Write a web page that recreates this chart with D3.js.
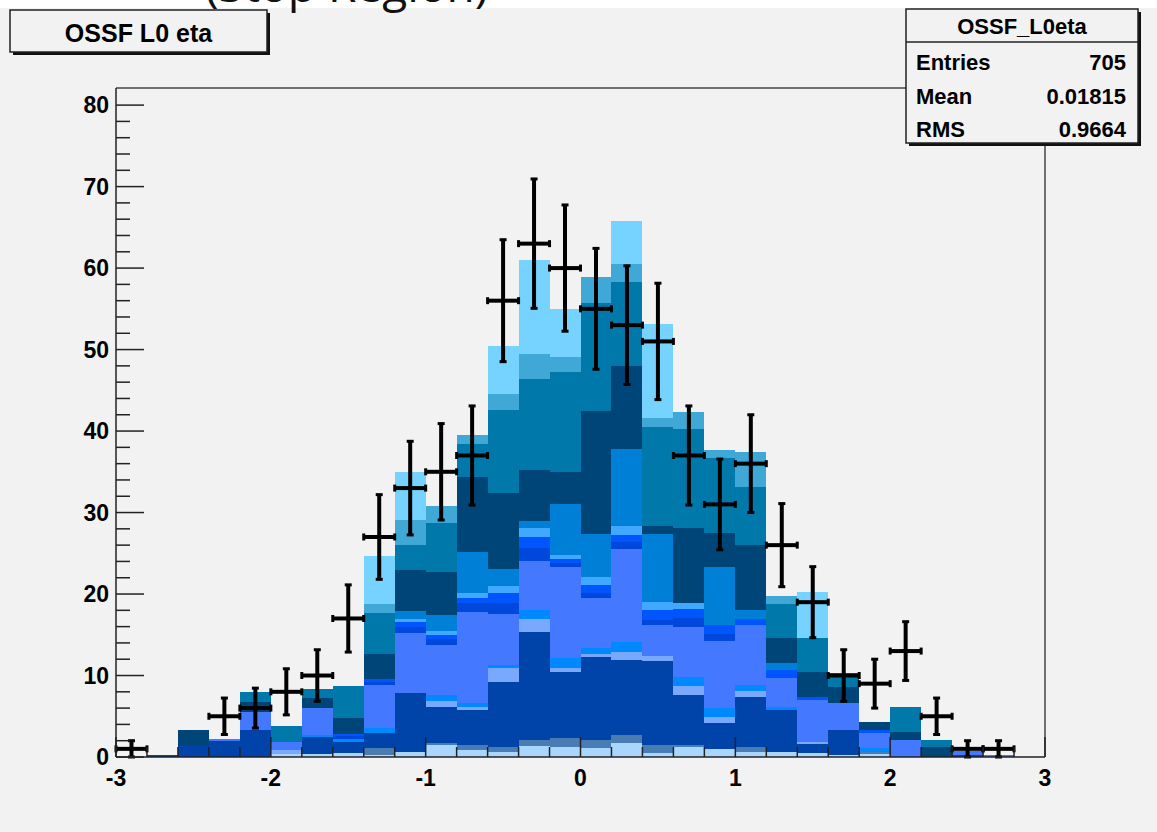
<!DOCTYPE html>
<html>
<head>
<meta charset="utf-8">
<script src="https://cdn.jsdelivr.net/npm/d3@7/dist/d3.min.js"></script>
<style>
body { margin: 0; background: #f2f2f2; }
text { font-family: "Liberation Sans", Arial, Helvetica, sans-serif; font-weight: bold; }
</style>
</head>
<body>
<svg id="chart" width="1157" height="832"></svg>
<script>
// histogram binning: 30 bins from -3 to 3
const binLow = d3.range(30).map(i => -3 + i * 0.2);
const binWidth = 0.2;

// observed data (black crosses)
const dataCounts = [1, 0, 0, 5, 6, 8, 10, 17, 27, 33, 35, 37, 56, 63, 60, 55, 53, 51, 37, 31, 36, 26, 19, 10, 9, 13, 5, 1, 1, 0];

// stacked MC components, bottom -> top
const layer01 = [0, 0, 0, 0, 0, 0.4, 0.4, 0.5, 0.25, 0.6, 1.5, 0.8, 0.6, 1.35, 1.2, 1.1, 1.7, 0.5, 1.2, 1.0, 0.6, 0.6, 0.5, 0.25, 0.4, 0, 0, 0, 0, 0];
const layer02 = [0, 0, 0, 0, 0, 0, 0, 0, 0.85, 0, 0.2, 0.7, 0.6, 0.75, 1.1, 1.0, 1.0, 1.0, 0.3, 0, 0.6, 0, 0, 0, 0.2, 0, 0, 0, 0, 0];
const layer03 = [0, 0.3, 1.35, 2.0, 3.3, 0, 2.1, 1.35, 1.8, 7.3, 4.4, 4.3, 8.0, 13.2, 8.1, 10.2, 9.2, 10.3, 6.1, 3.2, 6.2, 5.2, 1.1, 3.1, 0, 0, 0, 0.3, 0, 0];
const layer04 = [0, 0, 0, 0, 0, 0.4, 0, 0, 0, 0, 0.8, 0.3, 1.7, 1.6, 0.5, 0.4, 1.0, 0.6, 1.1, 0.7, 0.7, 0, 0.2, 0, 0, 0, 0, 0, 0, 0];
const layer05 = [0, 0, 0, 0, 0, 0, 0.2, 0.3, 0.6, 0, 0.7, 0.5, 0.4, 1.1, 1.2, 0.7, 1.2, 0, 1.1, 1.1, 0.7, 0.3, 0, 0, 0.5, 0, 0, 0, 0, 0];
const layer06 = [0, 0, 0, 0.2, 2.2, 1.0, 3.3, 0, 5.3, 7.3, 6.1, 11.2, 6.2, 6.1, 11.2, 6.1, 11.4, 3.8, 6.2, 8.2, 7.4, 3.6, 5.2, 3.3, 1.8, 2.1, 0, 0.4, 0.2, 0];
const layer07 = [0, 0, 0, 0, 0, 0, 0, 0.4, 0.4, 0.8, 0.8, 1.1, 1.4, 1.6, 0.5, 0.6, 0.9, 0.6, 1.1, 0.9, 0, 0, 0, 0, 0, 0, 0, 0, 0, 0];
const layer08 = [0, 0, 0, 0, 0, 0, 0, 0.3, 0.4, 0.6, 0.5, 0.6, 1.2, 1.3, 0.5, 1.0, 0.9, 1.2, 1.1, 1.1, 0.7, 1.0, 0.4, 0, 0.4, 0, 0, 0, 0, 0];
const layer09 = [0, 0, 0, 0, 0, 0, 0, 0, 0, 0.3, 0.5, 0.6, 0.9, 1.1, 0.5, 1.0, 1.1, 1.0, 0.7, 0, 0, 0, 0, 0, 0, 0, 0, 0, 0, 0];
const layer10 = [0, 0, 0, 0, 0, 0, 0, 0, 0, 1.0, 1.9, 5.1, 2.1, 0.9, 6.2, 5.3, 9.4, 8.4, 0, 7.1, 1.1, 0.8, 0, 0, 0, 0, 0, 0, 0, 0];
const layer11 = [0, 0, 1.95, 0, 1.2, 0, 1.2, 1.9, 3.0, 5.0, 5.3, 9.2, 9.3, 6.2, 4.0, 15.1, 10.2, 0.9, 9.2, 4.2, 8.0, 3.1, 3.0, 2.0, 1.0, 1.0, 1.2, 0, 0, 0];
const layer12 = [0, 0, 0, 0, 1.3, 2.0, 1.1, 4.0, 5.1, 3.1, 6.0, 4.0, 10.2, 11.2, 12.2, 13.2, 10.3, 12.2, 12.1, 9.2, 7.1, 4.2, 4.2, 1.7, 0, 3.0, 0.9, 0, 0, 0];
const layer13 = [0, 0, 0, 0, 0, 0, 0, 0, 1.1, 3.1, 2.1, 1.1, 1.9, 3.1, 1.9, 3.2, 2.2, 1.1, 2.1, 1.0, 4.3, 1.0, 0, 0, 0, 0, 0, 0, 0, 0];
const layer14 = [0, 0, 0, 0, 0, 0, 0, 0, 5.9, 5.9, 0, 0, 5.9, 11.5, 5.9, 0, 5.3, 11.5, 0, 0, 0, 0, 5.6, 0, 0, 0, 0, 0, 0, 0];

const layers = [layer01, layer02, layer03, layer04, layer05, layer06, layer07,
                layer08, layer09, layer10, layer11, layer12, layer13, layer14];
const layerColors = ['#a8d6ff', '#4a7cb4', '#0044aa', '#78a9ff', '#0088ff', '#4479ff', '#0047dc',
                     '#0055ff', '#40a9ff', '#007fd6', '#004577', '#0078aa', '#3fa8d6', '#76d3ff'];

const yMajorTicks = [0, 10, 20, 30, 40, 50, 60, 70, 80];
const xMajorTicks = [-3, -2, -1, 0, 1, 2, 3];

const statsTitle = 'OSSF_L0eta';
const statsRows = [['Entries', '705'], ['Mean', '0.01815'], ['RMS', '0.9664']];
const histTitle = 'OSSF L0 eta';
const pageHeading = '(Stop Region)';   // only the bottom of this heading shows

const svg = d3.select('#chart');

// white strip at the very top with the cut-off heading
svg.append('defs').append('clipPath').attr('id', 'topclip')
  .append('rect').attr('x', 0).attr('y', 0).attr('width', 1157).attr('height', 13);
svg.append('rect').attr('x', 0).attr('y', 0).attr('width', 1157).attr('height', 8).attr('fill', '#ffffff');
svg.append('text').attr('clip-path', 'url(#topclip)')
  .attr('x', 205).attr('y', 2)
  .style('font-family', '"Open Sans", "DejaVu Sans", sans-serif').style('font-weight', 'normal')
  .attr('font-size', 46).attr('fill', '#111')
  .text(pageHeading);

const frame = { left: 116, right: 1045, top: 88, bottom: 757 };

const x = d3.scaleLinear().domain([-3, 3]).range([frame.left, frame.right]);
const y = d3.scaleLinear().domain([0, 82.1]).range([frame.bottom, frame.top]);

// build table for d3.stack
const keys = layers.map((l, i) => 'L' + i);
const table = binLow.map((lo, b) => {
    const row = { lo: lo };
    layers.forEach((l, i) => { row['L' + i] = l[b]; });
    return row;
});
const series = d3.stack().keys(keys)(table);

const stackG = svg.append('g').attr('shape-rendering', 'crispEdges');
series.forEach((s, i) => {
    stackG.append('g')
      .selectAll('rect')
      .data(s.filter(d => d[1] - d[0] > 0))
      .enter().append('rect')
        .attr('x', d => x(d.data.lo))
        .attr('width', d => x(d.data.lo + binWidth) - x(d.data.lo))
        .attr('y', d => y(d[1]))
        .attr('height', d => y(d[0]) - y(d[1]))
        .attr('fill', layerColors[i]);
});

// frame (top + right)
svg.append('line').attr('x1', frame.left).attr('x2', frame.right).attr('y1', frame.top).attr('y2', frame.top)
  .attr('stroke', '#444').attr('stroke-width', 1.5);
svg.append('line').attr('x1', frame.right).attr('x2', frame.right).attr('y1', frame.top).attr('y2', frame.bottom)
  .attr('stroke', '#444').attr('stroke-width', 1.5);

// data points with error bars
const pts = dataCounts.map((n, i) => ({ lo: binLow[i], n: n })).filter(d => d.n > 0);
const dataG = svg.append('g').attr('stroke', '#000').attr('stroke-width', 4).attr('fill', 'none');
const cap = 3.5;
pts.forEach(d => {
    const xc = x(d.lo + binWidth / 2);
    const x0 = x(d.lo), x1 = x(d.lo + binWidth);
    const yc = y(d.n);
    const err = Math.sqrt(d.n);
    const yTop = y(d.n + err), yBot = y(Math.max(0, d.n - err));
    dataG.append('line').attr('x1', x0).attr('x2', x1).attr('y1', yc).attr('y2', yc);
    dataG.append('line').attr('x1', xc).attr('x2', xc).attr('y1', yTop).attr('y2', yBot);
    // end caps
    dataG.append('line').attr('x1', x0).attr('x2', x0).attr('y1', yc - cap).attr('y2', yc + cap).attr('stroke-width', 3);
    dataG.append('line').attr('x1', x1).attr('x2', x1).attr('y1', yc - cap).attr('y2', yc + cap).attr('stroke-width', 3);
    dataG.append('line').attr('x1', xc - cap).attr('x2', xc + cap).attr('y1', yTop).attr('y2', yTop).attr('stroke-width', 3);
    dataG.append('line').attr('x1', xc - cap).attr('x2', xc + cap).attr('y1', yBot).attr('y2', yBot).attr('stroke-width', 3);
});

// y axis
const yAxis = svg.append('g').attr('stroke', '#222').attr('stroke-width', 1.5);
yAxis.append('line').attr('x1', frame.left).attr('x2', frame.left).attr('y1', frame.top).attr('y2', frame.bottom);
d3.range(0, 82, 2).forEach(v => {
    const major = v % 10 === 0;
    yAxis.append('line').attr('x1', frame.left).attr('x2', frame.left + (major ? 28 : 14))
      .attr('y1', y(v)).attr('y2', y(v));
});
svg.append('g').selectAll('text').data(yMajorTicks).enter().append('text')
  .attr('x', 109).attr('y', d => y(d) + 8)
  .attr('text-anchor', 'end').attr('font-size', 23).attr('fill', '#000')
  .text(d => d);

// x axis
const xAxis = svg.append('g').attr('stroke', '#222').attr('stroke-width', 1.5);
xAxis.append('line').attr('x1', frame.left).attr('x2', frame.right).attr('y1', frame.bottom).attr('y2', frame.bottom);
d3.range(0, 31).forEach(i => {
    const v = -3 + i * 0.2;
    const major = i % 5 === 0;
    xAxis.append('line').attr('x1', x(v)).attr('x2', x(v))
      .attr('y1', frame.bottom).attr('y2', frame.bottom - (major ? 20 : 10));
});
svg.append('g').selectAll('text').data(xMajorTicks).enter().append('text')
  .attr('x', d => x(d)).attr('y', 786)
  .attr('text-anchor', 'middle').attr('font-size', 23).attr('fill', '#000')
  .text(d => d);

// title box
const tb = { x: 10, y: 10, w: 257, h: 42 };
svg.append('rect').attr('x', tb.x + 3).attr('y', tb.y + 3).attr('width', tb.w).attr('height', tb.h).attr('fill', '#111');
svg.append('rect').attr('x', tb.x).attr('y', tb.y).attr('width', tb.w).attr('height', tb.h)
  .attr('fill', '#f2f2f2').attr('stroke', '#222').attr('stroke-width', 1.5);
svg.append('text').attr('x', tb.x + tb.w / 2).attr('y', tb.y + 32).attr('text-anchor', 'middle')
  .attr('font-size', 25).text(histTitle);

// stats box
const sb = { x: 906, y: 9, w: 232, h: 134 };
svg.append('rect').attr('x', sb.x + 3).attr('y', sb.y + 3).attr('width', sb.w).attr('height', sb.h).attr('fill', '#111');
svg.append('rect').attr('x', sb.x).attr('y', sb.y).attr('width', sb.w).attr('height', sb.h)
  .attr('fill', '#f2f2f2').attr('stroke', '#222').attr('stroke-width', 1.5);
svg.append('line').attr('x1', sb.x).attr('x2', sb.x + sb.w).attr('y1', sb.y + 33).attr('y2', sb.y + 33)
  .attr('stroke', '#222').attr('stroke-width', 1.5);
svg.append('text').attr('x', sb.x + sb.w / 2).attr('y', sb.y + 25).attr('text-anchor', 'middle')
  .attr('font-size', 22).text(statsTitle);
statsRows.forEach((r, i) => {
    const yy = sb.y + 61 + i * 33.5;
    svg.append('text').attr('x', sb.x + 10).attr('y', yy).attr('font-size', 22).text(r[0]);
    svg.append('text').attr('x', sb.x + sb.w - 12).attr('y', yy).attr('text-anchor', 'end').attr('font-size', 22).text(r[1]);
});
</script>
</body>
</html>
